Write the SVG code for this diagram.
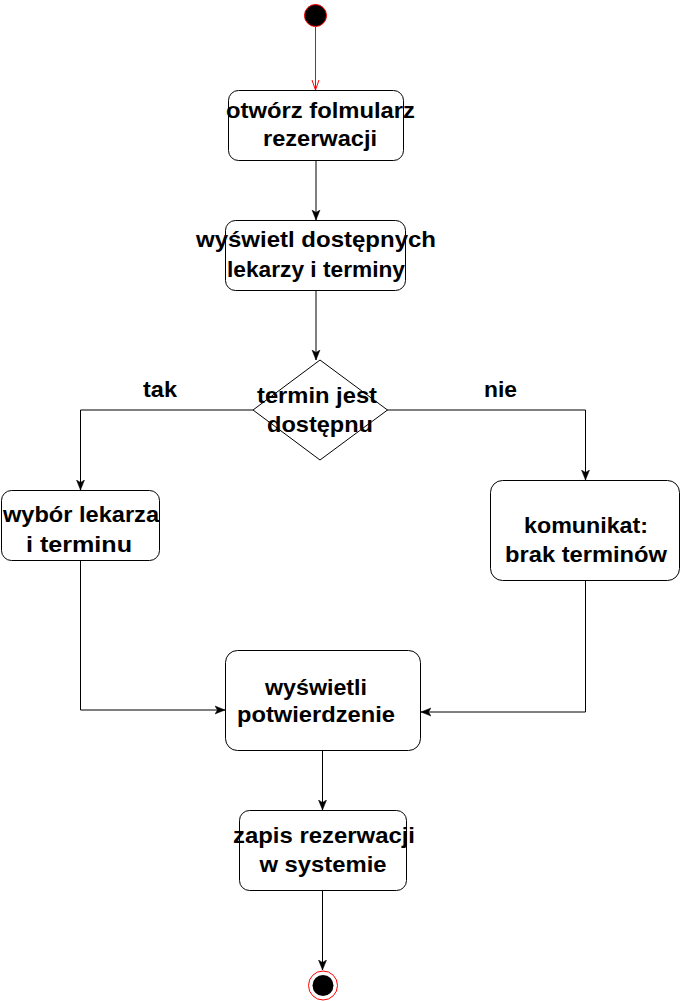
<svg xmlns="http://www.w3.org/2000/svg" width="681" height="1001" viewBox="0 0 681 1001">
<style>
.box{fill:#fff;stroke:#000;stroke-width:1}
.t{font-family:"Liberation Sans",Arial,sans-serif;font-weight:bold;font-size:22px;fill:#000;text-anchor:middle}
.c{fill:none;stroke:#000;stroke-width:1}
</style>
<defs>
<marker id="arr" viewBox="0 0 10 10" refX="10" refY="5" markerWidth="10" markerHeight="10" markerUnits="userSpaceOnUse" orient="auto">
<path d="M0,1 L10,5 L0,9 L2.5,5 Z" fill="#000" stroke="#000" stroke-width="0.5"/>
</marker>
<marker id="arrRed" viewBox="0 0 10 10" refX="10" refY="5" markerWidth="10" markerHeight="10" markerUnits="userSpaceOnUse" orient="auto">
<path d="M0,1.5 L10,5 L0,8.5" fill="none" stroke="#f00" stroke-width="1"/>
</marker>
</defs>
<rect width="681" height="1001" fill="#fff"/>
<g id="connectors">
<line x1="315.5" y1="27" x2="315.5" y2="90" stroke="#f00" stroke-width="1" marker-end="url(#arrRed)"/>
<line class="c" x1="316" y1="160" x2="316" y2="220" marker-end="url(#arr)"/>
<line class="c" x1="316" y1="290" x2="316" y2="360" marker-end="url(#arr)"/>
<polyline class="c" points="253,410 80.5,410 80.5,490" marker-end="url(#arr)"/>
<polyline class="c" points="387,410 585.5,410 585.5,480" marker-end="url(#arr)"/>
<polyline class="c" points="80.5,561 80.5,710 225,710" marker-end="url(#arr)"/>
<polyline class="c" points="585.5,580 585.5,712 421,712" marker-end="url(#arr)"/>
<line class="c" x1="322.5" y1="750" x2="322.5" y2="810" marker-end="url(#arr)"/>
<line class="c" x1="322.5" y1="890" x2="322.5" y2="970" marker-end="url(#arr)"/>
</g>
<g id="start">
<circle cx="315.5" cy="15.5" r="11" fill="#000" stroke="#f00" stroke-width="1"/>
</g>
<g id="n1">
<rect class="box" x="228.5" y="90.5" width="175" height="70" rx="10"/>
<text class="t" x="320.5" y="118" textLength="189" lengthAdjust="spacingAndGlyphs">otwórz folmularz</text>
<text class="t" x="320" y="146" textLength="114" lengthAdjust="spacingAndGlyphs">rezerwacji</text>
</g>
<g id="n2">
<rect class="box" x="225.5" y="220.5" width="180" height="70" rx="10"/>
<text class="t" x="316" y="247" textLength="240" lengthAdjust="spacingAndGlyphs">wyświetl dostępnych</text>
<text class="t" x="316" y="277" textLength="178" lengthAdjust="spacingAndGlyphs">lekarzy i terminy</text>
</g>
<g id="decision">
<polygon class="box" points="320,360 387.5,410 320,460 253,410"/>
<text class="t" x="317" y="403" textLength="120" lengthAdjust="spacingAndGlyphs">termin jest</text>
<text class="t" x="320" y="432" textLength="106" lengthAdjust="spacingAndGlyphs">dostępnu</text>
</g>
<g id="label-tak">
<text class="t" x="160" y="397" textLength="34" lengthAdjust="spacingAndGlyphs">tak</text>
</g>
<g id="label-nie">
<text class="t" x="500.5" y="397" textLength="33" lengthAdjust="spacingAndGlyphs">nie</text>
</g>
<g id="n3">
<rect class="box" x="1.5" y="490.5" width="158" height="70" rx="10"/>
<text class="t" x="81" y="522" textLength="156" lengthAdjust="spacingAndGlyphs">wybór lekarza</text>
<text class="t" x="79" y="552" textLength="106" lengthAdjust="spacingAndGlyphs">i terminu</text>
</g>
<g id="n4">
<rect class="box" x="490.5" y="480.5" width="189" height="100" rx="12"/>
<text class="t" x="586" y="533" textLength="124" lengthAdjust="spacingAndGlyphs">komunikat:</text>
<text class="t" x="586" y="562" textLength="162" lengthAdjust="spacingAndGlyphs">brak terminów</text>
</g>
<g id="n5">
<rect class="box" x="225.5" y="650.5" width="195" height="100" rx="12"/>
<text class="t" x="316" y="695" textLength="102" lengthAdjust="spacingAndGlyphs">wyświetli</text>
<text class="t" x="316" y="722" textLength="158" lengthAdjust="spacingAndGlyphs">potwierdzenie</text>
</g>
<g id="n6">
<rect class="box" x="239.5" y="810.5" width="167" height="80" rx="10"/>
<text class="t" x="324" y="843" textLength="182" lengthAdjust="spacingAndGlyphs">zapis rezerwacji</text>
<text class="t" x="323" y="872" textLength="127" lengthAdjust="spacingAndGlyphs">w systemie</text>
</g>
<g id="end">
<circle cx="323" cy="985.5" r="14.5" fill="#fff" stroke="#f00" stroke-width="1"/>
<circle cx="323" cy="985.5" r="10.5" fill="#000"/>
</g>
</svg>
